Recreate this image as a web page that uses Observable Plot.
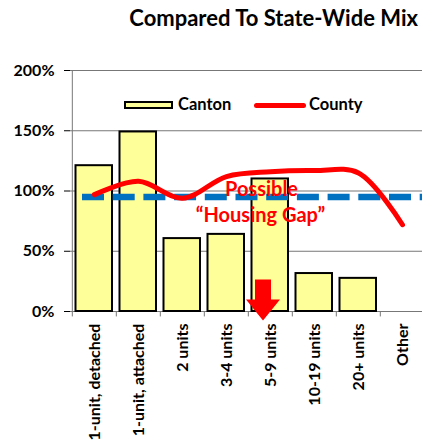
<!DOCTYPE html>
<html><head><meta charset="utf-8">
<script src="https://cdn.jsdelivr.net/npm/d3@7"></script>
<script src="https://cdn.jsdelivr.net/npm/@observablehq/plot@0.6"></script>
<style>
body{margin:0;overflow:hidden;background:#fff;font-family:Lato,sans-serif;}
#wrap{position:relative;width:422px;height:445px;overflow:hidden;}
#title{height:40px;box-sizing:border-box;padding-top:7px;padding-right:4px;text-align:right;font-weight:bold;font-size:22px;line-height:22px;color:#000;}
.lg{position:absolute;font-weight:bold;font-size:16.5px;line-height:16.5px;color:#000;white-space:nowrap;}
#box{position:absolute;left:124px;top:101px;width:49px;height:8px;box-sizing:border-box;border:2px solid #000;background:#FFFF99;}
#rl{position:absolute;left:254px;top:102.5px;width:52px;height:5px;background:#FF0000;border-radius:2.5px;}
</style></head>
<body>
<div id="wrap">
<div id="title">Compared To State-Wide Mix</div>
<div id="chart"></div>
<div id="box"></div><div class="lg" style="left:178px;top:96px">Canton</div>
<div id="rl"></div><div class="lg" style="left:309px;top:96px">County</div>
</div>
<script>
const categories = ["1-unit, detached","1-unit, attached","2 units","3-4 units","5-9 units","10-19 units","20+ units","Other"];
const canton = [121, 149, 60.5, 64, 110, 31.5, 27.5, null];
const county = [97, 108, 94, 112, 116, 117, 115, 72];
const stateMix = 95;
const yTicks = [0, 50, 100, 150, 200];
const gapLabels = ["Possible", "\u201cHousing Gap\u201d"];
const arrowCategory = "5-9 units";

const data = categories.map((c, i) => ({category: c, canton: canton[i], county: county[i]}));
const W = 422, mL = 70, mR = -3;
const step = (W - mL - mR) / categories.length;

const arrowSymbol = {draw(ctx) {
  ctx.moveTo(0, 0); ctx.lineTo(-17, -21); ctx.lineTo(-8, -21); ctx.lineTo(-8, -41);
  ctx.lineTo(8, -41); ctx.lineTo(8, -21); ctx.lineTo(17, -21); ctx.closePath();
}};

const plot = Plot.plot({
  width: W, height: 405, marginTop: 30, marginBottom: 134, marginLeft: mL, marginRight: mR,
  style: {fontFamily: "Lato, sans-serif", fontSize: "16px", fontWeight: "bold", color: "black", background: "white"},
  x: {domain: categories, padding: 0, axis: null},
  y: {domain: [0, 200], ticks: yTicks, tickFormat: d => d + "%", tickSize: 6, tickPadding: 10, label: null},
  marks: [
    Plot.ruleY(yTicks.filter(d => d > 0), {stroke: "#777", strokeWidth: 1}),
    Plot.ruleX([categories[0]], {x: d => d, y1: 0, y2: 200, dx: -step / 2, stroke: "#777"}),
    Plot.ruleY([0], {stroke: "#777"}),
    Plot.ruleX(categories, {x: d => d, y1: 0, y2: -4.5, dx: -step / 2, stroke: "#777"}),
    Plot.barY(data.filter(d => d.canton != null), {x: "category", y: "canton", fill: "#FFFF99", stroke: "black", strokeWidth: 2, insetLeft: 3.5, insetRight: 4}),
    Plot.ruleY([stateMix], {stroke: "#0070C0", strokeWidth: 6.5, strokeDasharray: "22,8.7", insetLeft: 12}),
    Plot.line(data, {x: "category", y: "county", stroke: "#FF0000", strokeWidth: 5, curve: "catmull-rom", strokeLinecap: "round"}),
    Plot.text([gapLabels[0]], {x: () => arrowCategory, y: () => 96, dx: -9, fill: "#FF0000", fontSize: 20, fontWeight: "bold", lineAnchor: "bottom"}),
    Plot.text([gapLabels[1]], {x: () => arrowCategory, y: () => 74.4, dx: -10, fill: "#FF0000", fontSize: 20, fontWeight: "bold", lineAnchor: "bottom"}),
    Plot.dot([arrowCategory], {x: d => d, y: () => -7.5, symbol: arrowSymbol, r: 5, fill: "#FF0000", stroke: "none", dx: -7.5}),
    Plot.text(categories, {x: d => d, y: () => -10, rotate: -90, textAnchor: "end", lineAnchor: "middle", fontSize: 16, fontWeight: "bold", fill: "black"})
  ]
});
document.getElementById("chart").appendChild(plot);
</script>
</body></html>
